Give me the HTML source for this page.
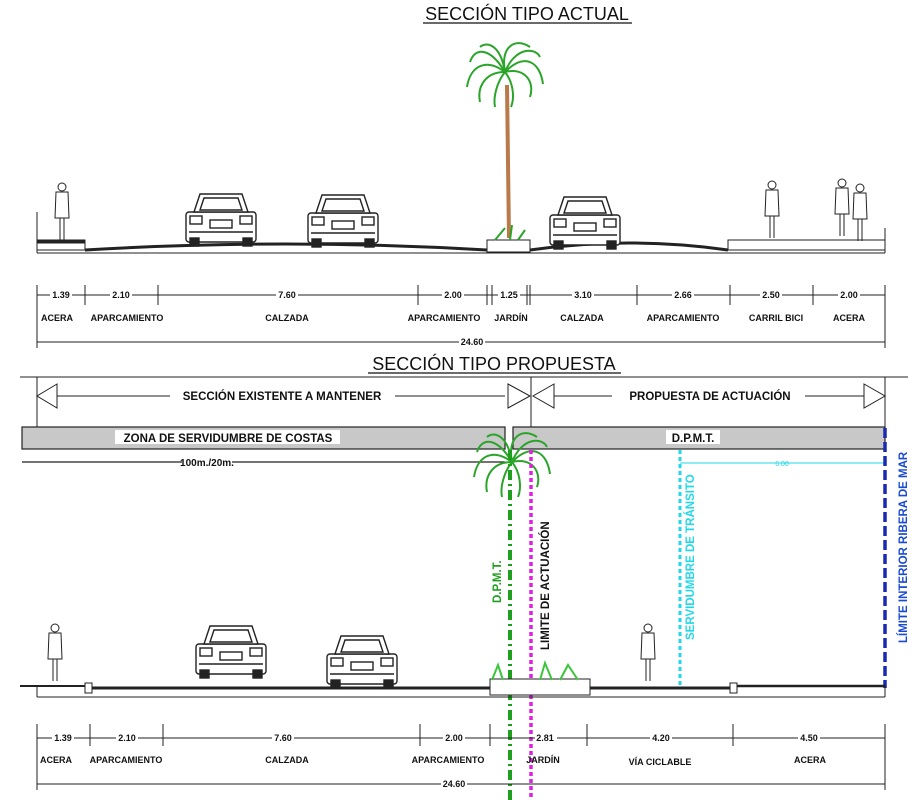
<!DOCTYPE html>
<html><head><meta charset="utf-8"><style>
html,body{margin:0;padding:0;background:#fff;}
svg{display:block;font-family:"Liberation Sans Narrow","Liberation Sans",sans-serif;}
</style></head><body>
<svg width="921" height="800" viewBox="0 0 921 800" xmlns="http://www.w3.org/2000/svg">
<defs>
<g id="car" fill="#fff" stroke="#222" stroke-width="1.4">
 <rect x="0" y="20" width="70" height="30" rx="3"/>
 <path d="M8 20 L14 2 H56 L62 20 Z"/>
 <path d="M14 18 L18 6 H52 L56 18 Z"/>
 <rect x="4" y="46" width="9" height="8" fill="#222"/><rect x="57" y="46" width="9" height="8" fill="#222"/>
 <rect x="24" y="28" width="22" height="8"/>
 <rect x="4" y="24" width="12" height="8"/><rect x="54" y="24" width="12" height="8"/>
 <line x1="3" y1="40" x2="67" y2="40"/>
</g>
<g id="person" fill="#fff" stroke="#222" stroke-width="1">
 <circle cx="0" cy="5" r="4"/>
 <path d="M-6 10 H6 L7 36 H-7 Z"/>
 <line x1="-2" y1="36" x2="-2" y2="58"/><line x1="2" y1="36" x2="2" y2="58"/>
</g>
<g id="palmtop" fill="none" stroke="#2aa52a" stroke-width="2">
 <path d="M0 0 C-20 -15 -35 -5 -38 15"/><path d="M0 0 C-15 -25 -30 -25 -35 -10"/>
 <path d="M0 0 C-5 -25 10 -35 25 -25"/><path d="M0 0 C20 -20 35 -10 38 12"/>
 <path d="M0 0 C20 -5 30 10 25 25"/><path d="M0 0 C-20 0 -28 15 -25 30"/>
 <path d="M0 0 C-5 -30 -20 -30 -25 -25"/><path d="M0 0 C10 -25 30 -25 35 -15"/>
 <path d="M0 0 C8 10 10 25 6 35"/><path d="M0 0 C-8 10 -12 25 -10 35"/>
</g>
</defs>

<text x="527" y="20" font-size="18" text-anchor="middle" fill="#111">SECCIÓN TIPO ACTUAL</text>
<line x1="423" y1="23" x2="632" y2="23" stroke="#111" stroke-width="1.3"/>

<g stroke="#222" fill="none">
 <line x1="37" y1="212" x2="37" y2="253" stroke-width="1"/>
 <line x1="885" y1="228" x2="885" y2="253" stroke-width="1"/>
 <line x1="37" y1="253" x2="885" y2="253" stroke-width="1"/>
 <rect x="37" y="240" width="48" height="10" stroke-width="1"/>
 <line x1="37" y1="242" x2="85" y2="242" stroke-width="3"/>
 <path d="M85 250 Q286 238 487 250" stroke-width="3"/>
 <rect x="487" y="240" width="43" height="12" stroke-width="1"/>
 <path d="M530 250 Q629 236 728 250" stroke-width="3"/>
 <rect x="728" y="240" width="157" height="10" stroke-width="1"/>
</g>
<line x1="507" y1="85" x2="509" y2="238" stroke="#b9794a" stroke-width="4"/>
<use href="#palmtop" x="505" y="72"/>
<path d="M495 240 L505 228 M510 240 L512 225 M518 240 L525 230" stroke="#2aa52a" stroke-width="2"/>
<use href="#car" x="186" y="192"/>
<use href="#car" x="308" y="193"/>
<use href="#car" x="550" y="195"/>
<use href="#person" x="62" y="182"/>
<use href="#person" x="772" y="180"/>
<use href="#person" x="842" y="178"/>
<use href="#person" x="860" y="183"/>

<g stroke="#222" stroke-width="1">
 <line x1="37" y1="295" x2="885" y2="295"/>
 <line x1="37" y1="285" x2="37" y2="348"/><line x1="85" y1="285" x2="85" y2="305"/>
 <line x1="158" y1="285" x2="158" y2="305"/><line x1="418" y1="285" x2="418" y2="305"/>
 <line x1="487" y1="285" x2="487" y2="305"/><line x1="492" y1="285" x2="492" y2="305"/>
 <line x1="527" y1="285" x2="527" y2="305"/><line x1="530" y1="285" x2="530" y2="305"/>
 <line x1="637" y1="285" x2="637" y2="305"/><line x1="730" y1="285" x2="730" y2="305"/>
 <line x1="813" y1="285" x2="813" y2="305"/><line x1="885" y1="285" x2="885" y2="348"/>
 <line x1="37" y1="342" x2="885" y2="342"/>
</g>
<g font-size="9" text-anchor="middle" fill="#111" font-weight="bold">
 <rect x="50" y="289" width="22" height="11" fill="#fff"/><text x="61" y="298">1.39</text>
 <rect x="110" y="289" width="22" height="11" fill="#fff"/><text x="121" y="298">2.10</text>
 <rect x="276" y="289" width="22" height="11" fill="#fff"/><text x="287" y="298">7.60</text>
 <rect x="442" y="289" width="22" height="11" fill="#fff"/><text x="453" y="298">2.00</text>
 <rect x="498" y="289" width="22" height="11" fill="#fff"/><text x="509" y="298">1.25</text>
 <rect x="572" y="289" width="22" height="11" fill="#fff"/><text x="583" y="298">3.10</text>
 <rect x="672" y="289" width="22" height="11" fill="#fff"/><text x="683" y="298">2.66</text>
 <rect x="760" y="289" width="22" height="11" fill="#fff"/><text x="771" y="298">2.50</text>
 <rect x="838" y="289" width="22" height="11" fill="#fff"/><text x="849" y="298">2.00</text>
 <rect x="459" y="336" width="26" height="11" fill="#fff"/><text x="472" y="345">24.60</text>
 <text x="57" y="321">ACERA</text><text x="127" y="321">APARCAMIENTO</text>
 <text x="287" y="321">CALZADA</text><text x="444" y="321">APARCAMIENTO</text>
 <text x="511" y="321">JARDÍN</text><text x="582" y="321">CALZADA</text>
 <text x="683" y="321">APARCAMIENTO</text><text x="776" y="321">CARRIL BICI</text>
 <text x="849" y="321">ACERA</text>
</g>

<text x="494" y="370" font-size="18" text-anchor="middle" fill="#111">SECCIÓN TIPO PROPUESTA</text>
<line x1="368" y1="373" x2="621" y2="373" stroke="#111" stroke-width="1.3"/>

<g stroke="#222" stroke-width="1" fill="#fff">
 <line x1="20" y1="377" x2="908" y2="377"/>
 <line x1="37" y1="377" x2="37" y2="428"/>
 <line x1="531" y1="377" x2="531" y2="428"/>
 <line x1="885" y1="377" x2="885" y2="428"/>
 <line x1="57" y1="396" x2="170" y2="396"/><line x1="395" y1="396" x2="505" y2="396"/>
 <path d="M57 384 L37 396 L57 408 Z"/><path d="M508 384 L530 396 L508 408 Z"/>
 <line x1="554" y1="396" x2="612" y2="396"/><line x1="805" y1="396" x2="864" y2="396"/>
 <path d="M554 384 L533 396 L554 408 Z"/><path d="M864 384 L885 396 L864 408 Z"/>
</g>
<g font-size="11.5" text-anchor="middle" fill="#111" font-weight="bold">
 <text x="282" y="400">SECCIÓN EXISTENTE A MANTENER</text>
 <text x="710" y="400">PROPUESTA DE ACTUACIÓN</text>
</g>
<rect x="22" y="427" width="483" height="22" fill="#c8c8c8" stroke="#222" stroke-width="1.2"/>
<rect x="513" y="427" width="372" height="22" fill="#c8c8c8" stroke="#222" stroke-width="1.2"/>
<rect x="115" y="430" width="225" height="14" fill="#fff"/>
<rect x="666" y="430" width="54" height="14" fill="#fff"/>
<text x="228" y="442" font-size="11.5" text-anchor="middle" fill="#111" font-weight="bold">ZONA DE SERVIDUMBRE DE COSTAS</text>
<text x="693" y="442" font-size="11.5" text-anchor="middle" fill="#111" font-weight="bold">D.P.M.T.</text>
<line x1="22" y1="462" x2="505" y2="462" stroke="#222" stroke-width="1.2"/>
<rect x="182" y="456" width="50" height="12" fill="#fff"/>
<text x="207" y="466" font-size="10" text-anchor="middle" fill="#111" font-weight="bold">100m./20m.</text>

<use href="#palmtop" x="512" y="462"/>
<line x1="680" y1="450" x2="680" y2="688" stroke="#22d8e8" stroke-width="3" stroke-dasharray="4,3"/>
<line x1="680" y1="463" x2="885" y2="463" stroke="#22d8e8" stroke-width="1"/>
<text x="782" y="466" font-size="7" fill="#22d8e8" text-anchor="middle">6.00</text>
<text transform="translate(694,640) rotate(-90)" font-size="11.5" fill="#22d8e8" font-weight="bold">SERVIDUMBRE DE TRÁNSITO</text>
<line x1="885" y1="428" x2="885" y2="688" stroke="#1a2ab0" stroke-width="3.5" stroke-dasharray="10,4"/>
<text transform="translate(907,643) rotate(-90)" font-size="11.5" fill="#1a4ad0" font-weight="bold">LÍMITE INTERIOR RIBERA DE MAR</text>
<line x1="510" y1="450" x2="510" y2="800" stroke="#1ea01e" stroke-width="4" stroke-dasharray="10,4,2,4"/>
<text transform="translate(501,603) rotate(-90)" font-size="11.5" fill="#1ea01e" font-weight="bold">D.P.M.T.</text>
<line x1="531" y1="450" x2="531" y2="800" stroke="#e020e0" stroke-width="3.5" stroke-dasharray="4,3"/>
<text transform="translate(549,650) rotate(-90)" font-size="11.5" fill="#111" font-weight="bold">LIMITE DE ACTUACIÓN</text>

<g stroke="#222" fill="none" stroke-width="1">
 <line x1="20" y1="686" x2="90" y2="686" stroke-width="2"/>
 <line x1="90" y1="688" x2="490" y2="688" stroke-width="3"/>
 <rect x="85" y="683" width="7" height="10" fill="#fff"/>
 <rect x="490" y="679" width="100" height="16" fill="#fff"/>
 <line x1="590" y1="688" x2="733" y2="688" stroke-width="3"/>
 <rect x="730" y="683" width="7" height="10" fill="#fff"/>
 <line x1="737" y1="686" x2="885" y2="686" stroke-width="2.5"/>
 <line x1="37" y1="697" x2="885" y2="697"/>
 <line x1="37" y1="686" x2="37" y2="697"/>
 <line x1="885" y1="686" x2="885" y2="697"/>
</g>
<path d="M492 680 L498 665 L503 680 M540 680 L545 663 L552 680 M560 680 L568 665 L578 680" stroke="#3cc43c" stroke-width="2" fill="none"/>
<use href="#car" x="196" y="624"/>
<use href="#car" x="327" y="634"/>
<use href="#person" x="55" y="623"/>
<use href="#person" x="648" y="623"/>

<g stroke="#222" stroke-width="1">
 <line x1="37" y1="738" x2="885" y2="738"/>
 <line x1="37" y1="724" x2="37" y2="790"/><line x1="90" y1="724" x2="90" y2="746"/>
 <line x1="163" y1="724" x2="163" y2="746"/><line x1="420" y1="724" x2="420" y2="746"/>
 <line x1="490" y1="724" x2="490" y2="746"/><line x1="587" y1="724" x2="587" y2="746"/>
 <line x1="733" y1="724" x2="733" y2="746"/><line x1="885" y1="724" x2="885" y2="790"/>
 <line x1="37" y1="784" x2="885" y2="784"/>
</g>
<g font-size="9" text-anchor="middle" fill="#111" font-weight="bold">
 <rect x="52" y="732" width="22" height="11" fill="#fff"/><text x="63" y="741">1.39</text>
 <rect x="116" y="732" width="22" height="11" fill="#fff"/><text x="127" y="741">2.10</text>
 <rect x="272" y="732" width="22" height="11" fill="#fff"/><text x="283" y="741">7.60</text>
 <rect x="443" y="732" width="22" height="11" fill="#fff"/><text x="454" y="741">2.00</text>
 <rect x="535" y="732" width="22" height="11" fill="#fff"/><text x="545" y="741">2.81</text>
 <rect x="650" y="732" width="22" height="11" fill="#fff"/><text x="661" y="741">4.20</text>
 <rect x="798" y="732" width="22" height="11" fill="#fff"/><text x="809" y="741">4.50</text>
 <rect x="441" y="778" width="26" height="11" fill="#fff"/><text x="454" y="787">24.60</text>
 <text x="56" y="763">ACERA</text><text x="126" y="763">APARCAMIENTO</text>
 <text x="287" y="763">CALZADA</text><text x="448" y="763">APARCAMIENTO</text>
 <text x="543" y="763">JARDÍN</text><text x="660" y="765">VÍA CICLABLE</text>
 <text x="810" y="763">ACERA</text>
</g>
</svg>
</body></html>
